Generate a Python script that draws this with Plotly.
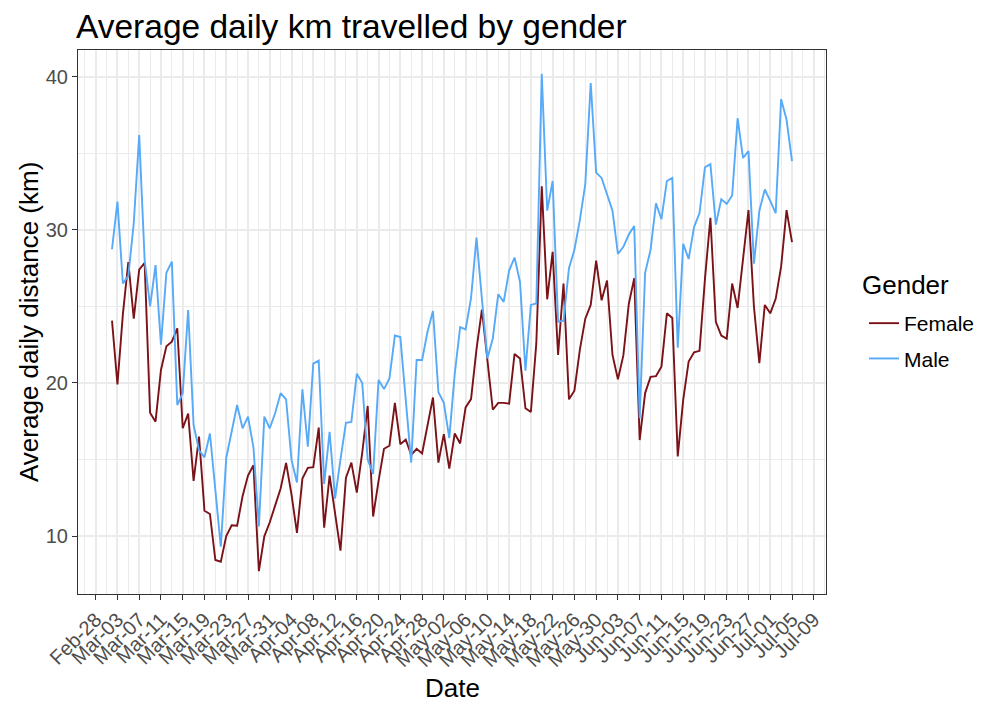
import pandas as pd
import plotly.graph_objects as go

start_date = "2020-03-02"
n_days = 126
dates = pd.date_range(start_date, periods=n_days, freq="D")

female = [
    24.07, 19.9, 24.5, 27.9, 24.2, 27.4, 27.85, 18.06, 17.47, 20.85,
    22.4, 22.7, 23.57, 17.04, 18.0, 13.6, 16.5, 11.65, 11.44, 8.43,
    8.32, 10.0, 10.7, 10.67, 12.6, 13.95, 14.62, 7.7, 9.98, 10.9,
    12.0, 13.1, 14.78, 12.7, 10.2, 13.75, 14.45, 14.5, 17.08, 10.55,
    13.95, 11.5, 9.04, 13.8, 14.8, 12.84, 15.45, 18.5, 11.27, 13.6,
    15.7, 15.9, 18.7, 16.0, 16.3, 15.3, 15.7, 15.4, 17.2, 19.05,
    14.8, 16.66, 14.4, 16.7, 16.05, 18.4, 18.95, 22.2, 24.8, 21.6,
    18.25, 18.7, 18.7, 18.65, 21.9, 21.6, 18.35, 18.1, 22.6, 32.85,
    25.47, 28.57, 21.83, 26.5, 18.93, 19.5, 22.16, 24.2, 25.1, 28.0,
    25.4, 26.7, 21.83, 20.24, 21.8, 25.16, 26.85, 16.27, 19.34, 20.4,
    20.45, 21.07, 24.55, 24.25, 15.2, 18.9, 21.4, 22.0, 22.1, 26.8,
    30.8, 24.0, 23.1, 22.9, 26.5, 24.9, 28.1, 31.3, 25.0, 21.3,
    25.1, 24.55, 25.5, 27.6, 31.3, 29.2,
]

male = [
    28.74, 31.85, 26.5, 27.0, 30.44, 36.2, 28.04, 25.0, 27.7, 22.5,
    27.2, 27.93, 18.56, 19.33, 24.77, 17.25, 15.6, 15.14, 16.7, 13.1,
    9.3, 15.1, 16.85, 18.56, 17.04, 17.8, 15.8, 10.63, 17.8, 17.04,
    18.04, 19.33, 18.93, 14.97, 13.5, 19.59, 15.84, 21.26, 21.46, 13.4,
    16.8, 12.45, 15.0, 17.4, 17.45, 20.6, 20.0, 15.0, 14.05, 20.2,
    19.6, 20.3, 23.1, 23.0, 18.9, 14.8, 21.5, 21.5, 23.35, 24.7,
    19.4, 18.7, 16.4, 20.6, 23.65, 23.5, 25.55, 29.5, 25.5, 21.6,
    22.9, 25.8, 25.3, 27.35, 28.2, 26.6, 20.8, 25.1, 25.2, 40.2,
    31.26, 33.2, 24.0, 24.07, 27.5, 28.7, 30.64, 33.0, 39.6, 33.75,
    33.4, 32.35, 31.26, 28.43, 28.9, 29.7, 30.26, 17.7, 27.2, 28.7,
    31.74, 30.7, 33.2, 33.4, 22.3, 29.1, 28.1, 30.2, 31.1, 34.1,
    34.3, 30.35, 32.0, 31.7, 32.25, 37.3, 34.7, 35.15, 27.8, 31.26,
    32.65, 31.9, 31.1, 38.55, 37.2, 34.5,
]

series_names = ["Female", "Male"]
series_colors = ["#7B1218", "#56AAF8"]

DAY_MS = 86400000
FONT = "Liberation Sans, Arial, Helvetica, sans-serif"

# the page body adds an 8px offset; the figure is sized to compensate
W, H = 977, 696
ML, MT, MR, MB = 70, 42, 159, 110
PW, PH = W - ML - MR, H - MT - MB

fig = go.Figure()
for name, vals, col in zip(series_names, [female, male], series_colors):
    fig.add_trace(go.Scatter(
        x=dates, y=vals, mode="lines", name=name, legendgroup=name,
        line=dict(color=col, width=1.9),
    ))

x0 = pd.Timestamp(start_date) - pd.Timedelta(hours=6.25 * 24)
x1 = pd.Timestamp(start_date) + pd.Timedelta(days=n_days - 1) + pd.Timedelta(hours=6.25 * 24)

fig.update_layout(
    width=W, height=H,
    margin=dict(l=ML, r=MR, t=MT, b=MB, autoexpand=False),
    paper_bgcolor="white", plot_bgcolor="white",
    font=dict(family=FONT, color="black"),
    title=dict(
        text="Average daily km travelled by gender",
        font=dict(size=33.5, color="black", family=FONT),
        x=68 / W, xanchor="left", xref="container",
        y=1 - 18 / H, yanchor="middle", yref="container",
    ),
    legend=dict(
        font=dict(size=21, color="black"),
        x=(864 - 8 - ML) / PW, xanchor="left",
        y=(594 - 303) / PH, yanchor="top",
        bgcolor="rgba(0,0,0,0)",
        tracegroupgap=5,
    ),
    showlegend=True,
    annotations=[
        dict(text="Gender", xref="paper", yref="paper",
             x=(860 - 8 - ML) / PW, y=(594 - 285) / PH,
             xanchor="left", yanchor="middle", showarrow=False,
             font=dict(size=26, color="black")),
        dict(text="Date", xref="paper", yref="paper", x=0.5, y=-(688 - 594) / PH,
             xanchor="center", yanchor="middle", showarrow=False,
             font=dict(size=26, color="black")),
        dict(text="Average daily distance (km)", xref="paper", yref="paper",
             x=-(78 - 29) / PW, y=0.5, xanchor="center", yanchor="middle",
             textangle=-90, showarrow=False, font=dict(size=26, color="black")),
    ],
)

fig.update_xaxes(
    range=[x0, x1],
    type="date", automargin=False,
    tick0="2020-02-28", dtick=4 * DAY_MS,
    tickformat="%b-%d",
    tickangle=-45,
    tickfont=dict(size=20, color="#4D4D4D"),
    ticks="outside", ticklen=5, tickwidth=1, tickcolor="#333333",
    showgrid=True, gridcolor="#EBEBEB", gridwidth=2,
    minor=dict(tick0="2020-02-26", dtick=2 * DAY_MS, showgrid=True,
               gridcolor="#EBEBEB", gridwidth=1.1),
    showline=True, linecolor="#333333", linewidth=1, mirror=True,
    zeroline=False,
)

fig.update_yaxes(
    range=[6.21, 41.76], automargin=False,
    tick0=0, dtick=10,
    tickfont=dict(size=20, color="#4D4D4D"),
    ticks="outside", ticklen=5, tickwidth=1, tickcolor="#333333",
    showgrid=True, gridcolor="#EBEBEB", gridwidth=2,
    minor=dict(tick0=0, dtick=5, showgrid=True, gridcolor="#EBEBEB", gridwidth=1.1),
    showline=True, linecolor="#333333", linewidth=1, mirror=True,
    zeroline=False,
)

fig.write_html("out.html")
